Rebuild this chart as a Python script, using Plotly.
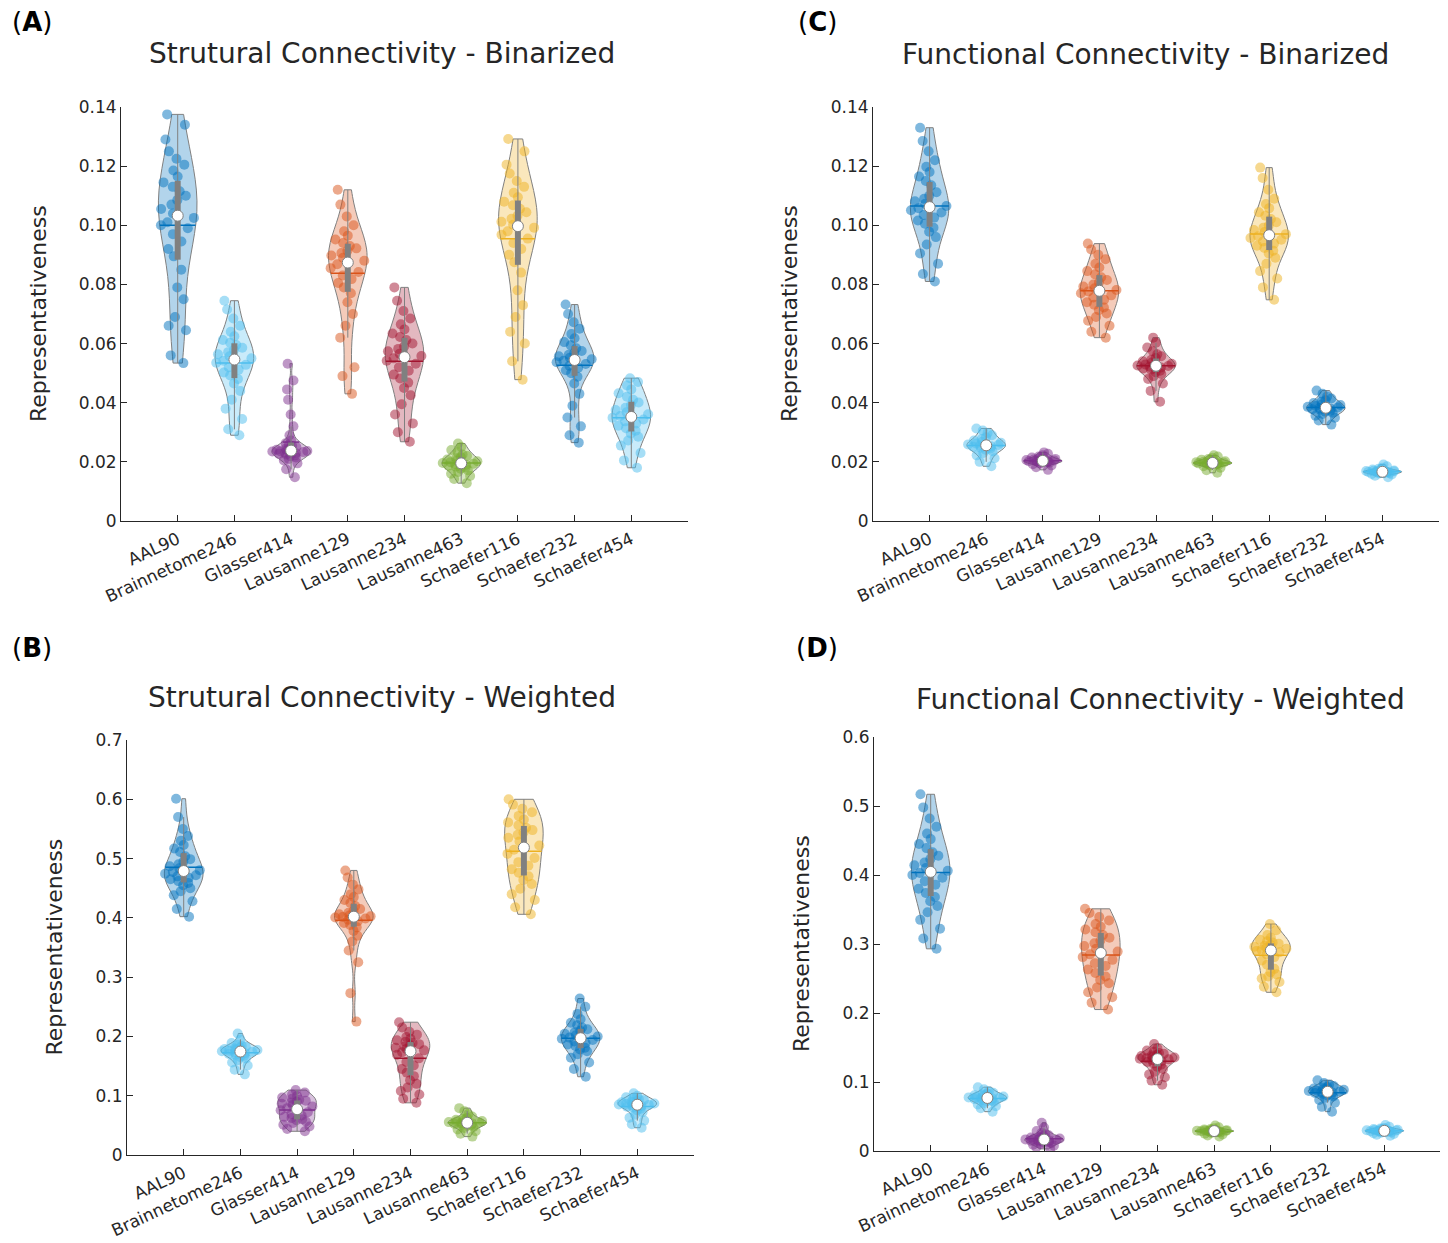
import numpy as np
import plotly.graph_objects as go

categories = ["AAL90", "Brainnetome246", "Glasser414", "Lausanne129", "Lausanne234",
              "Lausanne463", "Schaefer116", "Schaefer232", "Schaefer454"]
colors = ["#0072BD", "#4DBEEE", "#7E2F8E", "#D95319", "#A2142F",
          "#77AC30", "#EDB120", "#0072BD", "#4DBEEE"]

# ---------------- (A) Structural connectivity - binarized ----------------
scb_aal90 = [0.0534, 0.0560, 0.0645, 0.0660, 0.0690, 0.0750, 0.0790, 0.0850, 0.0895, 0.0920, 0.0945,
             0.0970, 0.0990, 0.1000, 0.1010, 0.1025, 0.1040, 0.1055, 0.1070, 0.1085, 0.1100, 0.1115,
             0.1130, 0.1145, 0.1165, 0.1185, 0.1205, 0.1225, 0.1250, 0.1290, 0.1340, 0.1375]
scb_brain246 = [0.0290, 0.0310, 0.0345, 0.0380, 0.0410, 0.0440, 0.0465, 0.0480, 0.0492, 0.0502, 0.0512,
                0.0520, 0.0528, 0.0535, 0.0542, 0.0550, 0.0557, 0.0564, 0.0571, 0.0578, 0.0586, 0.0595,
                0.0603, 0.0612, 0.0625, 0.0640, 0.0660, 0.0685, 0.0715, 0.0745]
scb_glasser414 = [0.0148, 0.0175, 0.0195, 0.0205, 0.0210, 0.0215, 0.0219, 0.0222, 0.0225, 0.0227, 0.0229,
                  0.0231, 0.0233, 0.0235, 0.0236, 0.0237, 0.0239, 0.0241, 0.0244, 0.0247, 0.0250, 0.0254,
                  0.0258, 0.0263, 0.0272, 0.0290, 0.0320, 0.0360, 0.0410, 0.0445, 0.0475, 0.0532]
scb_laus129 = [0.0430, 0.0490, 0.0520, 0.0620, 0.0660, 0.0700, 0.0740, 0.0770, 0.0790, 0.0805, 0.0818,
               0.0830, 0.0842, 0.0855, 0.0868, 0.0880, 0.0890, 0.0898, 0.0906, 0.0914, 0.0922, 0.0930,
               0.0940, 0.0952, 0.0965, 0.0980, 0.1000, 0.1030, 0.1070, 0.1120]
scb_laus234 = [0.0268, 0.0300, 0.0330, 0.0360, 0.0395, 0.0425, 0.0450, 0.0468, 0.0482, 0.0495, 0.0508,
               0.0520, 0.0532, 0.0542, 0.0550, 0.0558, 0.0566, 0.0574, 0.0582, 0.0590, 0.0600, 0.0612,
               0.0622, 0.0634, 0.0648, 0.0665, 0.0685, 0.0710, 0.0745, 0.0790]
scb_laus463 = [0.0128, 0.0142, 0.0152, 0.0160, 0.0166, 0.0172, 0.0177, 0.0181, 0.0184, 0.0187, 0.0190,
               0.0192, 0.0194, 0.0196, 0.0199, 0.0202, 0.0205, 0.0208, 0.0212, 0.0216, 0.0220, 0.0225,
               0.0232, 0.0240, 0.0250, 0.0262]
scb_schaefer116 = [0.0478, 0.0540, 0.0600, 0.0640, 0.0690, 0.0730, 0.0780, 0.0840, 0.0875, 0.0900, 0.0920,
                   0.0940, 0.0955, 0.0968, 0.0980, 0.0992, 0.1002, 0.1012, 0.1022, 0.1032, 0.1044, 0.1056,
                   0.1068, 0.1080, 0.1095, 0.1110, 0.1130, 0.1150, 0.1175, 0.1205, 0.1250, 0.1292]
scb_schaefer232 = [0.0265, 0.0290, 0.0320, 0.0350, 0.0390, 0.0430, 0.0465, 0.0488, 0.0500, 0.0510, 0.0518,
                   0.0525, 0.0531, 0.0537, 0.0542, 0.0547, 0.0552, 0.0557, 0.0562, 0.0568, 0.0575, 0.0584,
                   0.0594, 0.0605, 0.0618, 0.0632, 0.0650, 0.0672, 0.0700, 0.0732]
scb_schaefer454 = [0.0180, 0.0205, 0.0230, 0.0255, 0.0272, 0.0285, 0.0296, 0.0305, 0.0314, 0.0322, 0.0330,
                   0.0337, 0.0343, 0.0349, 0.0355, 0.0361, 0.0368, 0.0375, 0.0383, 0.0392, 0.0401, 0.0410,
                   0.0420, 0.0432, 0.0445, 0.0458, 0.0470, 0.0483]

# ---------------- (C) Functional connectivity - binarized ----------------
fcb_aal90 = [0.0810, 0.0835, 0.0870, 0.0905, 0.0935, 0.0960, 0.0978, 0.0992, 0.1005, 0.1016, 0.1026,
             0.1035, 0.1043, 0.1051, 0.1058, 0.1065, 0.1073, 0.1081, 0.1090, 0.1100, 0.1112, 0.1135,
             0.1150, 0.1165, 0.1180, 0.1198, 0.1220, 0.1250, 0.1285, 0.1330]
fcb_brain246 = [0.0185, 0.0200, 0.0212, 0.0222, 0.0230, 0.0236, 0.0241, 0.0245, 0.0248, 0.0251, 0.0253,
                0.0255, 0.0257, 0.0259, 0.0262, 0.0265, 0.0268, 0.0272, 0.0277, 0.0283, 0.0290, 0.0298,
                0.0306, 0.0313]
fcb_glasser414 = [0.0173, 0.0182, 0.0188, 0.0192, 0.0195, 0.0197, 0.0199, 0.0200, 0.0201, 0.0202, 0.0203,
                  0.0204, 0.0205, 0.0206, 0.0208, 0.0210, 0.0212, 0.0215, 0.0218, 0.0222, 0.0227, 0.0232]
fcb_laus129 = [0.0620, 0.0640, 0.0660, 0.0677, 0.0690, 0.0702, 0.0713, 0.0722, 0.0731, 0.0740, 0.0748,
               0.0756, 0.0763, 0.0770, 0.0776, 0.0781, 0.0787, 0.0793, 0.0800, 0.0807, 0.0815, 0.0824,
               0.0834, 0.0845, 0.0857, 0.0870, 0.0885, 0.0900, 0.0918, 0.0938]
fcb_laus234 = [0.0403, 0.0440, 0.0465, 0.0480, 0.0490, 0.0497, 0.0503, 0.0508, 0.0512, 0.0516, 0.0519,
               0.0522, 0.0524, 0.0526, 0.0529, 0.0532, 0.0536, 0.0540, 0.0545, 0.0551, 0.0557, 0.0564,
               0.0574, 0.0587, 0.0603, 0.0620]
fcb_laus463 = [0.0163, 0.0172, 0.0180, 0.0185, 0.0188, 0.0190, 0.0192, 0.0193, 0.0194, 0.0195, 0.0196,
               0.0197, 0.0198, 0.0199, 0.0200, 0.0202, 0.0204, 0.0207, 0.0210, 0.0214, 0.0218, 0.0222]
fcb_schaefer116 = [0.0748, 0.0790, 0.0820, 0.0845, 0.0870, 0.0890, 0.0905, 0.0914, 0.0923, 0.0931, 0.0938,
                   0.0945, 0.0951, 0.0957, 0.0963, 0.0970, 0.0977, 0.0984, 0.0992, 0.1000, 0.1010, 0.1021,
                   0.1032, 0.1044, 0.1058, 0.1072, 0.1090, 0.1120, 0.1160, 0.1195]
fcb_schaefer232 = [0.0326, 0.0340, 0.0349, 0.0356, 0.0362, 0.0366, 0.0370, 0.0373, 0.0376, 0.0378, 0.0380,
                   0.0382, 0.0384, 0.0386, 0.0389, 0.0392, 0.0395, 0.0399, 0.0403, 0.0408, 0.0414, 0.0421,
                   0.0430, 0.0441]
fcb_schaefer454 = [0.0148, 0.0153, 0.0157, 0.0159, 0.0161, 0.0162, 0.0163, 0.0164, 0.0165, 0.0166, 0.0166,
                   0.0167, 0.0168, 0.0169, 0.0170, 0.0171, 0.0172, 0.0174, 0.0177, 0.0180, 0.0185, 0.0191]

# ---------------- (B) Structural connectivity - weighted ----------------
scw_aal90 = [0.4020, 0.4150, 0.4280, 0.4380, 0.4450, 0.4500, 0.4550, 0.4590, 0.4620, 0.4650, 0.4675,
             0.4700, 0.4720, 0.4745, 0.4775, 0.4805, 0.4835, 0.4870, 0.4905, 0.4945, 0.4990, 0.5040,
             0.5110, 0.5170, 0.5230, 0.5300, 0.5380, 0.5500, 0.5700, 0.6010]
scw_brain246 = [0.1360, 0.1440, 0.1510, 0.1560, 0.1600, 0.1630, 0.1655, 0.1675, 0.1690, 0.1705, 0.1718,
                0.1730, 0.1740, 0.1750, 0.1760, 0.1770, 0.1780, 0.1790, 0.1800, 0.1812, 0.1825, 0.1840,
                0.1860, 0.1890, 0.1950, 0.2050]
scw_glasser414 = [0.0400, 0.0440, 0.0480, 0.0510, 0.0540, 0.0565, 0.0585, 0.0605, 0.0625, 0.0645, 0.0665,
                  0.0690, 0.0720, 0.0755, 0.0790, 0.0820, 0.0845, 0.0865, 0.0885, 0.0900, 0.0915, 0.0930,
                  0.0950, 0.0970, 0.0995, 0.1020, 0.1055, 0.1095]
scw_laus129 = [0.2250, 0.2730, 0.3250, 0.3450, 0.3600, 0.3700, 0.3780, 0.3840, 0.3880, 0.3915, 0.3945,
               0.3970, 0.3990, 0.4005, 0.4015, 0.4025, 0.4040, 0.4060, 0.4085, 0.4115, 0.4150, 0.4200,
               0.4250, 0.4300, 0.4350, 0.4400, 0.4480, 0.4560, 0.4680, 0.4800]
scw_laus234 = [0.0880, 0.0950, 0.1020, 0.1080, 0.1140, 0.1200, 0.1260, 0.1330, 0.1390, 0.1450, 0.1510,
               0.1570, 0.1630, 0.1690, 0.1735, 0.1765, 0.1790, 0.1810, 0.1830, 0.1850, 0.1870, 0.1890,
               0.1910, 0.1935, 0.1960, 0.1990, 0.2030, 0.2080, 0.2150, 0.2240]
scw_laus463 = [0.0310, 0.0360, 0.0400, 0.0430, 0.0455, 0.0475, 0.0490, 0.0505, 0.0515, 0.0525, 0.0533,
               0.0540, 0.0547, 0.0555, 0.0563, 0.0572, 0.0582, 0.0594, 0.0608, 0.0625, 0.0650, 0.0690,
               0.0740, 0.0790]
scw_schaefer116 = [0.4060, 0.4180, 0.4300, 0.4400, 0.4490, 0.4570, 0.4640, 0.4700, 0.4760, 0.4820, 0.4880,
                   0.4940, 0.5010, 0.5080, 0.5150, 0.5220, 0.5290, 0.5350, 0.5400, 0.5440, 0.5480, 0.5520,
                   0.5560, 0.5610, 0.5660, 0.5720, 0.5780, 0.5840, 0.5910, 0.6000]
scw_schaefer232 = [0.1320, 0.1450, 0.1560, 0.1640, 0.1700, 0.1750, 0.1780, 0.1810, 0.1840, 0.1865, 0.1890,
                   0.1915, 0.1940, 0.1960, 0.1980, 0.2000, 0.2020, 0.2045, 0.2070, 0.2095, 0.2120, 0.2150,
                   0.2190, 0.2230, 0.2290, 0.2380, 0.2500, 0.2640]
scw_schaefer454 = [0.0460, 0.0520, 0.0580, 0.0630, 0.0680, 0.0720, 0.0755, 0.0780, 0.0800, 0.0815, 0.0828,
                   0.0838, 0.0845, 0.0852, 0.0860, 0.0870, 0.0880, 0.0890, 0.0900, 0.0912, 0.0925, 0.0940,
                   0.0955, 0.0975, 0.1000, 0.1040]

# ---------------- (D) Functional connectivity - weighted ----------------
fcw_aal90 = [0.2930, 0.3080, 0.3220, 0.3350, 0.3460, 0.3550, 0.3620, 0.3680, 0.3740, 0.3800, 0.3860,
             0.3910, 0.3960, 0.4000, 0.4030, 0.4060, 0.4100, 0.4140, 0.4180, 0.4230, 0.4280, 0.4330,
             0.4390, 0.4450, 0.4520, 0.4600, 0.4700, 0.4820, 0.4980, 0.5170]
fcw_brain246 = [0.0570, 0.0620, 0.0650, 0.0675, 0.0695, 0.0710, 0.0722, 0.0733, 0.0743, 0.0752, 0.0760,
                0.0766, 0.0771, 0.0777, 0.0784, 0.0791, 0.0799, 0.0808, 0.0818, 0.0830, 0.0845, 0.0865,
                0.0895, 0.0925]
fcw_glasser414 = [0.0030, 0.0055, 0.0075, 0.0090, 0.0102, 0.0113, 0.0123, 0.0132, 0.0140, 0.0147, 0.0153,
                  0.0158, 0.0163, 0.0168, 0.0174, 0.0180, 0.0187, 0.0195, 0.0204, 0.0215, 0.0228, 0.0243,
                  0.0262, 0.0290, 0.0340, 0.0410]
fcw_laus129 = [0.2050, 0.2150, 0.2230, 0.2300, 0.2370, 0.2430, 0.2480, 0.2530, 0.2580, 0.2630, 0.2680,
               0.2720, 0.2770, 0.2810, 0.2850, 0.2890, 0.2930, 0.2970, 0.3010, 0.3050, 0.3090, 0.3130,
               0.3170, 0.3210, 0.3250, 0.3290, 0.3340, 0.3390, 0.3450, 0.3510]
fcw_laus234 = [0.0960, 0.1020, 0.1070, 0.1110, 0.1150, 0.1190, 0.1220, 0.1250, 0.1270, 0.1290, 0.1305,
               0.1318, 0.1328, 0.1336, 0.1345, 0.1355, 0.1365, 0.1375, 0.1385, 0.1395, 0.1408, 0.1420,
               0.1435, 0.1455, 0.1490, 0.1550]
fcw_laus463 = [0.0210, 0.0225, 0.0240, 0.0252, 0.0262, 0.0270, 0.0276, 0.0280, 0.0283, 0.0286, 0.0288,
               0.0290, 0.0292, 0.0295, 0.0298, 0.0302, 0.0307, 0.0313, 0.0320, 0.0330, 0.0345, 0.0370]
fcw_schaefer116 = [0.2300, 0.2380, 0.2450, 0.2500, 0.2530, 0.2560, 0.2590, 0.2640, 0.2700, 0.2760, 0.2810,
                   0.2850, 0.2880, 0.2900, 0.2915, 0.2930, 0.2945, 0.2960, 0.2975, 0.2990, 0.3005, 0.3020,
                   0.3040, 0.3060, 0.3090, 0.3130, 0.3200, 0.3290]
fcw_schaefer232 = [0.0570, 0.0640, 0.0700, 0.0740, 0.0770, 0.0790, 0.0805, 0.0818, 0.0830, 0.0840, 0.0848,
                   0.0855, 0.0862, 0.0870, 0.0878, 0.0886, 0.0895, 0.0905, 0.0916, 0.0928, 0.0943, 0.0960,
                   0.0985, 0.1025]
fcw_schaefer454 = [0.0220, 0.0235, 0.0248, 0.0258, 0.0266, 0.0272, 0.0277, 0.0281, 0.0285, 0.0288, 0.0291,
                   0.0294, 0.0297, 0.0300, 0.0304, 0.0308, 0.0313, 0.0319, 0.0326, 0.0335, 0.0350, 0.0375]

# tick labels
ytick_bin_vals = [0, 0.02, 0.04, 0.06, 0.08, 0.10, 0.12, 0.14]
ytick_bin_text = ["0", "0.02", "0.04", "0.06", "0.08", "0.10", "0.12", "0.14"]
ytick_scw_vals = [0, 0.1, 0.2, 0.3, 0.4, 0.5, 0.6, 0.7]
ytick_scw_text = ["0", "0.1", "0.2", "0.3", "0.4", "0.5", "0.6", "0.7"]
ytick_fcw_vals = [0, 0.1, 0.2, 0.3, 0.4, 0.5, 0.6]
ytick_fcw_text = ["0", "0.1", "0.2", "0.3", "0.4", "0.5", "0.6"]

panel_a = [scb_aal90, scb_brain246, scb_glasser414, scb_laus129, scb_laus234,
           scb_laus463, scb_schaefer116, scb_schaefer232, scb_schaefer454]
panel_c = [fcb_aal90, fcb_brain246, fcb_glasser414, fcb_laus129, fcb_laus234,
           fcb_laus463, fcb_schaefer116, fcb_schaefer232, fcb_schaefer454]
panel_b = [scw_aal90, scw_brain246, scw_glasser414, scw_laus129, scw_laus234,
           scw_laus463, scw_schaefer116, scw_schaefer232, scw_schaefer454]
panel_d = [fcw_aal90, fcw_brain246, fcw_glasser414, fcw_laus129, fcw_laus234,
           fcw_laus463, fcw_schaefer116, fcw_schaefer232, fcw_schaefer454]

PAGE_W, PAGE_H = 1448, 1243
OFF = 8  # the page body margin that offsets the figure in the browser
W, H = PAGE_W - OFF, PAGE_H - OFF
FONT = "DejaVu Sans"
TXT = "#262626"
GRAY = "#808080"
VW = 0.68  # full violin width in x units


def fx(x):
    return (x - OFF) / W


def fy(y):
    return 1 - (y - OFF) / H


def rgba(hexc, a):
    h = hexc.lstrip("#")
    return "rgba(%d,%d,%d,%.2f)" % (int(h[0:2], 16), int(h[2:4], 16), int(h[4:6], 16), a)


def kde_halfwidth_at(arr, v):
    # same rule-of-thumb bandwidth as plotly's violin, used to size the mean line
    n = len(arr)
    q1, q3 = np.percentile(arr, [25, 75])
    sd = np.std(arr, ddof=1)
    bw = 1.059 * min(sd, (q3 - q1) / 1.349) * n ** -0.2
    grid = np.linspace(arr.min(), arr.max(), 400)
    dens = np.exp(-0.5 * ((grid[:, None] - arr[None, :]) / bw) ** 2).sum(axis=1)
    dv = np.exp(-0.5 * ((v - arr) / bw) ** 2).sum()
    return VW / 2 * dv / dens.max()


panels = [
    dict(letter="A", title="Strutural Connectivity - Binarized", data=panel_a,
         yt=ytick_bin_vals, ytt=ytick_bin_text, yr=[0, 0.14],
         px=(121, 688), py=(107, 521), tpos=(382, 53), lpos=(32, 22), ytx=38),
    dict(letter="C", title="Functional Connectivity - Binarized", data=panel_c,
         yt=ytick_bin_vals, ytt=ytick_bin_text, yr=[0, 0.14],
         px=(873, 1439), py=(107, 521), tpos=(1145, 55), lpos=(817, 22), ytx=789),
    dict(letter="B", title="Strutural Connectivity - Weighted", data=panel_b,
         yt=ytick_scw_vals, ytt=ytick_scw_text, yr=[0, 0.7],
         px=(127, 694), py=(740, 1155), tpos=(382, 697), lpos=(32, 648), ytx=54),
    dict(letter="D", title="Functional Connectivity - Weighted", data=panel_d,
         yt=ytick_fcw_vals, ytt=ytick_fcw_text, yr=[0, 0.6],
         px=(874, 1441), py=(737, 1151), tpos=(1160, 699), lpos=(817, 648), ytx=801),
]

fig = go.Figure()
annotations = []
positions = list(range(1, len(categories) + 1))

for k, p in enumerate(panels):
    sfx = "" if k == 0 else str(k + 1)
    xa, ya = "x" + sfx, "y" + sfx
    for i, vals in enumerate(p["data"]):
        c = colors[i]
        pos = positions[i]
        arr = np.array(vals)
        fig.add_trace(go.Violin(
            x0=pos, y=vals, xaxis=xa, yaxis=ya, width=VW, scalemode="width",
            spanmode="hard", points="all", jitter=1.0, pointpos=0,
            marker=dict(color=c, size=10, opacity=0.5, line=dict(width=0)),
            fillcolor=rgba(c, 0.30), line=dict(color=GRAY, width=1),
            meanline=dict(visible=False),
            box=dict(visible=False), hoverinfo="skip", showlegend=False,
            name=categories[i]))
        mean = arr.mean()
        hw = kde_halfwidth_at(arr, mean)
        fig.add_trace(go.Scatter(x=[pos - hw, pos + hw], y=[mean, mean], xaxis=xa, yaxis=ya,
                                 mode="lines", line=dict(color=c, width=1.5),
                                 hoverinfo="skip", showlegend=False))
        q1, med, q3 = np.percentile(arr, [25, 50, 75])
        iqr = q3 - q1
        lo = arr[arr >= q1 - 1.5 * iqr].min()
        hi = arr[arr <= q3 + 1.5 * iqr].max()
        fig.add_trace(go.Scatter(x=[pos, pos], y=[lo, hi], xaxis=xa, yaxis=ya, mode="lines",
                                 line=dict(color=GRAY, width=1), hoverinfo="skip", showlegend=False))
        fig.add_trace(go.Scatter(x=[pos, pos], y=[q1, q3], xaxis=xa, yaxis=ya, mode="lines",
                                 line=dict(color=GRAY, width=6), hoverinfo="skip", showlegend=False))
        fig.add_trace(go.Scatter(x=[pos], y=[med], xaxis=xa, yaxis=ya, mode="markers",
                                 marker=dict(color="white", size=11, line=dict(color=GRAY, width=1)),
                                 hoverinfo="skip", showlegend=False))

    axis_common = dict(showline=True, linecolor=TXT, linewidth=1, ticks="inside", ticklen=6,
                       tickcolor=TXT, showgrid=False, zeroline=False, automargin=False,
                       tickfont=dict(family=FONT, size=17, color=TXT))
    fig.layout["xaxis" + sfx] = dict(
        domain=[fx(p["px"][0]), fx(p["px"][1])], anchor=ya, range=[0, 10],
        tickvals=positions, ticktext=categories, tickangle=-25, ticklabelstandoff=1,
        **axis_common)
    fig.layout["yaxis" + sfx] = dict(
        domain=[fy(p["py"][1]), fy(p["py"][0])], anchor=xa, range=p["yr"],
        tickvals=p["yt"], ticktext=p["ytt"], **axis_common)

    annotations.append(dict(text=p["title"], x=fx(p["tpos"][0]), y=fy(p["tpos"][1]),
                            xref="paper", yref="paper", showarrow=False, xanchor="center",
                            yanchor="middle", font=dict(family=FONT, size=28, color=TXT)))
    annotations.append(dict(text="(<b>%s</b>)" % p["letter"], x=fx(p["lpos"][0]), y=fy(p["lpos"][1]),
                            xref="paper", yref="paper", showarrow=False, xanchor="center",
                            yanchor="middle", font=dict(family=FONT, size=26, color="black")))
    annotations.append(dict(text="Representativeness", x=fx(p["ytx"]),
                            y=fy((p["py"][0] + p["py"][1]) / 2),
                            xref="paper", yref="paper", showarrow=False, textangle=-90,
                            xanchor="center", yanchor="middle",
                            font=dict(family=FONT, size=22, color=TXT)))

fig.update_layout(template="none", width=W, height=H, margin=dict(l=0, r=0, t=0, b=0, pad=0),
                  paper_bgcolor="white", plot_bgcolor="white", violinmode="overlay",
                  annotations=annotations, showlegend=False)

fig.write_html("out.html")
